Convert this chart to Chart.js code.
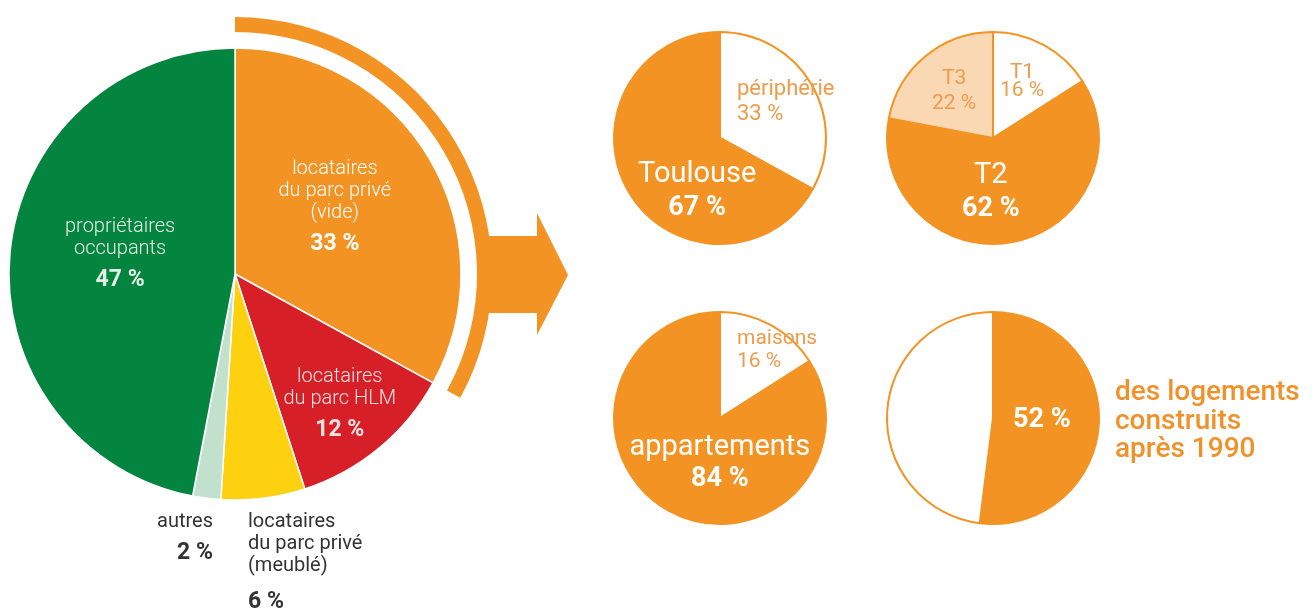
<!DOCTYPE html>
<html>
<head>
<meta charset="utf-8">
<script src="https://cdn.jsdelivr.net/npm/chart.js@4/dist/chart.umd.min.js"></script>
<style>
  html, body { margin: 0; padding: 0; background: #fff; }
  #wrap { position: relative; width: 1314px; height: 613px; overflow: hidden; font-family: Roboto, "Noto Sans", sans-serif; }
  #wrap canvas { position: absolute; }
  .lbl { position: absolute; white-space: nowrap; }
  .lbl div { line-height: 22px; }
  .lbl .pct { font-weight: 700; }
</style>
</head>
<body>
<div id="wrap">
  <canvas id="main" width="640" height="540" style="left:-30px;top:4px"></canvas>
  <canvas id="lieu" width="230" height="230" style="left:605px;top:23px"></canvas>
  <canvas id="taille" width="230" height="230" style="left:878px;top:23px"></canvas>
  <canvas id="type" width="230" height="230" style="left:605px;top:303px"></canvas>
  <canvas id="age" width="230" height="230" style="left:878px;top:303px"></canvas>
</div>
<script>
// statut d'occupation (%)
var statutLabels = ['locataires du parc privé (vide)', 'locataires du parc HLM', 'locataires du parc privé (meublé)', 'autres', 'propriétaires occupants'];
var statutValues = [33, 12, 6, 2, 47];
// part du parc privé vide, reprise en anneau
var anneauValues = [33, 67];
var ecartValues = [100];
// zoom sur le parc privé vide
var lieuLabels = ['périphérie', 'Toulouse'];
var lieuValues = [33, 67];
var tailleLabels = ['T1', 'T2', 'T3'];
var tailleValues = [16, 62, 22];
var typeLabels = ['maisons', 'appartements'];
var typeValues = [16, 84];
var ageLabels = ['après 1990', 'avant 1990'];
var ageValues = [52, 48];

var ORANGE = '#F39323';
var CLEAR = 'rgba(0,0,0,0)';

// la flèche qui part de l'anneau
var arrowPlugin = {
  id: 'arrow',
  beforeDatasetsDraw: function(chart) {
    var arc = chart.getDatasetMeta(0).data[0];
    var cx = arc.x, cy = arc.y, c = chart.ctx;
    c.save();
    c.fillStyle = ORANGE;
    c.beginPath();
    c.moveTo(cx + 246, cy - 38);
    c.lineTo(cx + 302, cy - 38);
    c.lineTo(cx + 302, cy - 61);
    c.lineTo(cx + 333, cy + 1);
    c.lineTo(cx + 302, cy + 61);
    c.lineTo(cx + 302, cy + 39);
    c.lineTo(cx + 246, cy + 39);
    c.closePath();
    c.fill();
    c.restore();
  }
};

var baseOpts = {
  responsive: false,
  animation: false,
  events: [],
  plugins: { legend: { display: false }, tooltip: { enabled: false } }
};

var mainChart = new Chart(document.getElementById('main'), {
  type: 'pie',
  data: {
    labels: statutLabels,
    datasets: [
      { data: anneauValues, backgroundColor: [ORANGE, CLEAR], borderWidth: 0, weight: 15 },
      { data: ecartValues, backgroundColor: [CLEAR], borderWidth: 0, weight: 16 },
      { data: statutValues, backgroundColor: [ORANGE, '#D61F26', '#FDD10F', '#C2E1CD', '#03843F'],
        borderColor: '#fff', borderWidth: 1.5, weight: 226 }
    ]
  },
  options: Object.assign({}, baseOpts, { radius: 257, layout: { padding: { right: 110 } } }),
  plugins: [arrowPlugin]
});

function smallPie(id, labels, values, colors) {
  return new Chart(document.getElementById(id), {
    type: 'pie',
    data: { labels: labels, datasets: [{ data: values, backgroundColor: colors, borderColor: ORANGE, borderWidth: 2 }] },
    options: Object.assign({}, baseOpts, { radius: 106 })
  });
}
var lieuChart = smallPie('lieu', lieuLabels, lieuValues, ['#fff', ORANGE]);
var tailleChart = smallPie('taille', tailleLabels, tailleValues, ['#fff', ORANGE, '#FAD8B3']);
var typeChart = smallPie('type', typeLabels, typeValues, ['#fff', ORANGE]);
var ageChart = smallPie('age', ageLabels, ageValues, [ORANGE, '#fff']);

// étiquettes, placées par rapport au centre de chaque camembert
var notes = [
  { chart: mainChart, ds: 2, dx: 100, dy: -118, anchor: 'center', color: '#fff', size: 20, weight: 300, lines: ['locataires', 'du parc privé', '(vide)'], pct: statutValues[0] + ' %', gap: 8 },
  { chart: mainChart, ds: 2, dx: -115, dy: -60, anchor: 'center', color: '#e4efe6', size: 20, weight: 300, lines: ['propriétaires', 'occupants'], pct: statutValues[4] + ' %', gap: 8 },
  { chart: mainChart, ds: 2, dx: 105, dy: 90, anchor: 'center', color: '#fbe3e3', size: 20, weight: 300, lines: ['locataires', 'du parc HLM'], pct: statutValues[1] + ' %', gap: 8 },
  { chart: mainChart, ds: 2, dx: -22, dy: 235, anchor: 'right', color: '#333', size: 20, lines: ['autres'], pct: statutValues[3] + ' %', gap: 8 },
  { chart: mainChart, ds: 2, dx: 13, dy: 235, anchor: 'left', color: '#333', size: 20, lines: ['locataires', 'du parc privé', '(meublé)'], pct: statutValues[2] + ' %', gap: 13 },
  { chart: lieuChart, ds: 0, dx: -23, dy: 18, anchor: 'center', color: '#fff', size: 29, lh: 32, lines: [lieuLabels[1]], pct: lieuValues[1] + ' %', gap: 3 },
  { chart: lieuChart, ds: 0, dx: 17, dy: -63, anchor: 'left', color: '#EE9B4C', size: 22, lh: 25, lines: [lieuLabels[0], lieuValues[0] + ' %'] },
  { chart: tailleChart, ds: 0, dx: -2, dy: 19, anchor: 'center', color: '#fff', size: 29, lh: 32, lines: [tailleLabels[1]], pct: tailleValues[1] + ' %', gap: 3 },
  { chart: tailleChart, ds: 0, dx: 29, dy: -76, anchor: 'center', color: '#EE9B4C', size: 21, lh: 18, lines: [tailleLabels[0], tailleValues[0] + ' %'] },
  { chart: tailleChart, ds: 0, dx: -39, dy: -73, anchor: 'center', color: '#EE9B4C', size: 21, lh: 25, lines: [tailleLabels[2], tailleValues[2] + ' %'] },
  { chart: typeChart, ds: 0, dx: 0, dy: 11, anchor: 'center', color: '#fff', size: 29, lh: 32, lines: [typeLabels[1]], pct: typeValues[1] + ' %', gap: 1 },
  { chart: typeChart, ds: 0, dx: 17, dy: -92, anchor: 'left', color: '#EE9B4C', size: 21, lh: 23, lines: [typeLabels[0], typeValues[0] + ' %'] },
  { chart: ageChart, ds: 0, dx: 49, dy: -15, anchor: 'center', color: '#fff', size: 27, lh: 30, lines: [], pct: ageValues[0] + ' %', gap: 0 },
  { chart: ageChart, ds: 0, dx: 122, dy: -41, anchor: 'left', color: '#F0912A', size: 28, lh: 28.5, weight: 500, lines: ['des logements', 'construits', ageLabels[0]] }
];

var wrap = document.getElementById('wrap');
notes.forEach(function(n) {
  var arc = n.chart.getDatasetMeta(n.ds).data[0];
  var canvas = n.chart.canvas;
  var cx = canvas.offsetLeft + arc.x;
  var cy = canvas.offsetTop + arc.y;
  var el = document.createElement('div');
  el.className = 'lbl';
  el.style.color = n.color;
  el.style.fontSize = n.size + 'px';
  el.style.fontWeight = n.weight || 400;
  el.style.textAlign = n.anchor;
  n.lines.forEach(function(t) {
    var d = document.createElement('div');
    d.textContent = t;
    if (n.lh) d.style.lineHeight = n.lh + 'px';
    el.appendChild(d);
  });
  if (n.pct) {
    var p = document.createElement('div');
    p.className = 'pct';
    p.textContent = n.pct;
    p.style.marginTop = n.gap + 'px';
    p.style.lineHeight = (n.size >= 27 ? 30 : 26) + 'px';
    p.style.fontSize = (n.size >= 27 ? 27 : 23) + 'px';
    el.appendChild(p);
  }
  wrap.appendChild(el);
  var x = cx + n.dx;
  el.style.top = (cy + n.dy) + 'px';
  if (n.anchor === 'center') el.style.left = (x - el.offsetWidth / 2) + 'px';
  else if (n.anchor === 'right') el.style.left = (x - el.offsetWidth) + 'px';
  else el.style.left = x + 'px';
});
</script>
</body>
</html>
